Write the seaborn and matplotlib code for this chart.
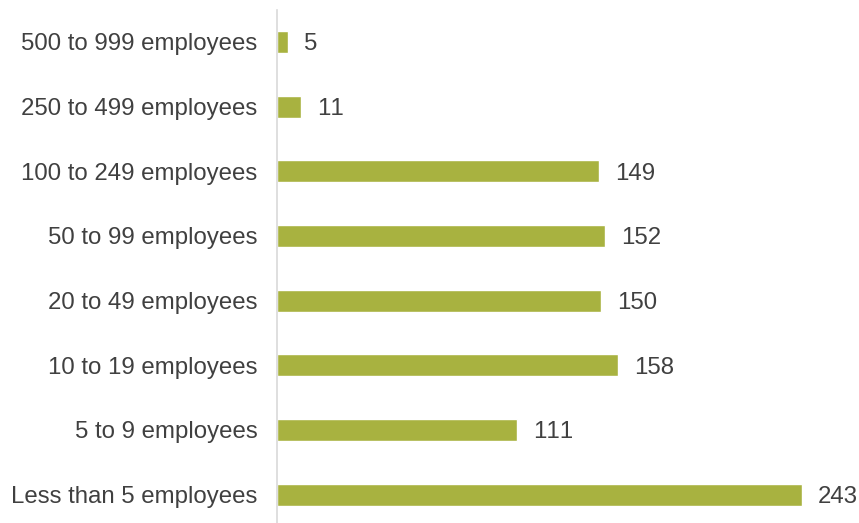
import matplotlib
matplotlib.use("Agg")
import matplotlib.pyplot as plt
import seaborn as sns
import pandas as pd

categories = [
    "500 to 999 employees",
    "250 to 499 employees",
    "100 to 249 employees",
    "50 to 99 employees",
    "20 to 49 employees",
    "10 to 19 employees",
    "5 to 9 employees",
    "Less than 5 employees",
]
counts = [5, 11, 149, 152, 150, 158, 111, 243]

df = pd.DataFrame({"size": categories, "count": counts})

sns.set_theme(style="white")
plt.rcParams["font.family"] = ["Liberation Sans", "DejaVu Sans"]
# plain glyph advances, no pair kerning (keeps "11" evenly spaced)
plt.rcParams["text.kerning_factor"] = 20

bar_color = "#A8B240"
text_color = "#404040"
font_size = 17.3

fig = plt.figure(figsize=(8.59, 5.23), dpi=100)
ax = fig.add_axes([277 / 859, -4 / 523, (845 - 277) / 859, 517.4 / 523])

sns.barplot(data=df, x="count", y="size", order=categories, color=bar_color,
            width=0.34, saturation=1, ax=ax)

ax.set_xlim(0, (845 - 277) / 2.16)
ax.set_ylim(len(categories) - 0.5, -0.5)
ax.set_xlabel("")
ax.set_ylabel("")
ax.set_xticks([])

for i, v in enumerate(counts):
    ax.annotate(str(v), xy=(v, i), xytext=(11.5, 0), textcoords="offset points",
                ha="left", va="center_baseline", fontsize=font_size, color=text_color)

ax.tick_params(axis="y", length=0, pad=14, labelsize=font_size, labelcolor=text_color)

for side in ["top", "right", "bottom"]:
    ax.spines[side].set_visible(False)
ax.spines["left"].set_color("#D9D9D9")
ax.spines["left"].set_linewidth(1.2)

fig.savefig("out.png", dpi=100)
